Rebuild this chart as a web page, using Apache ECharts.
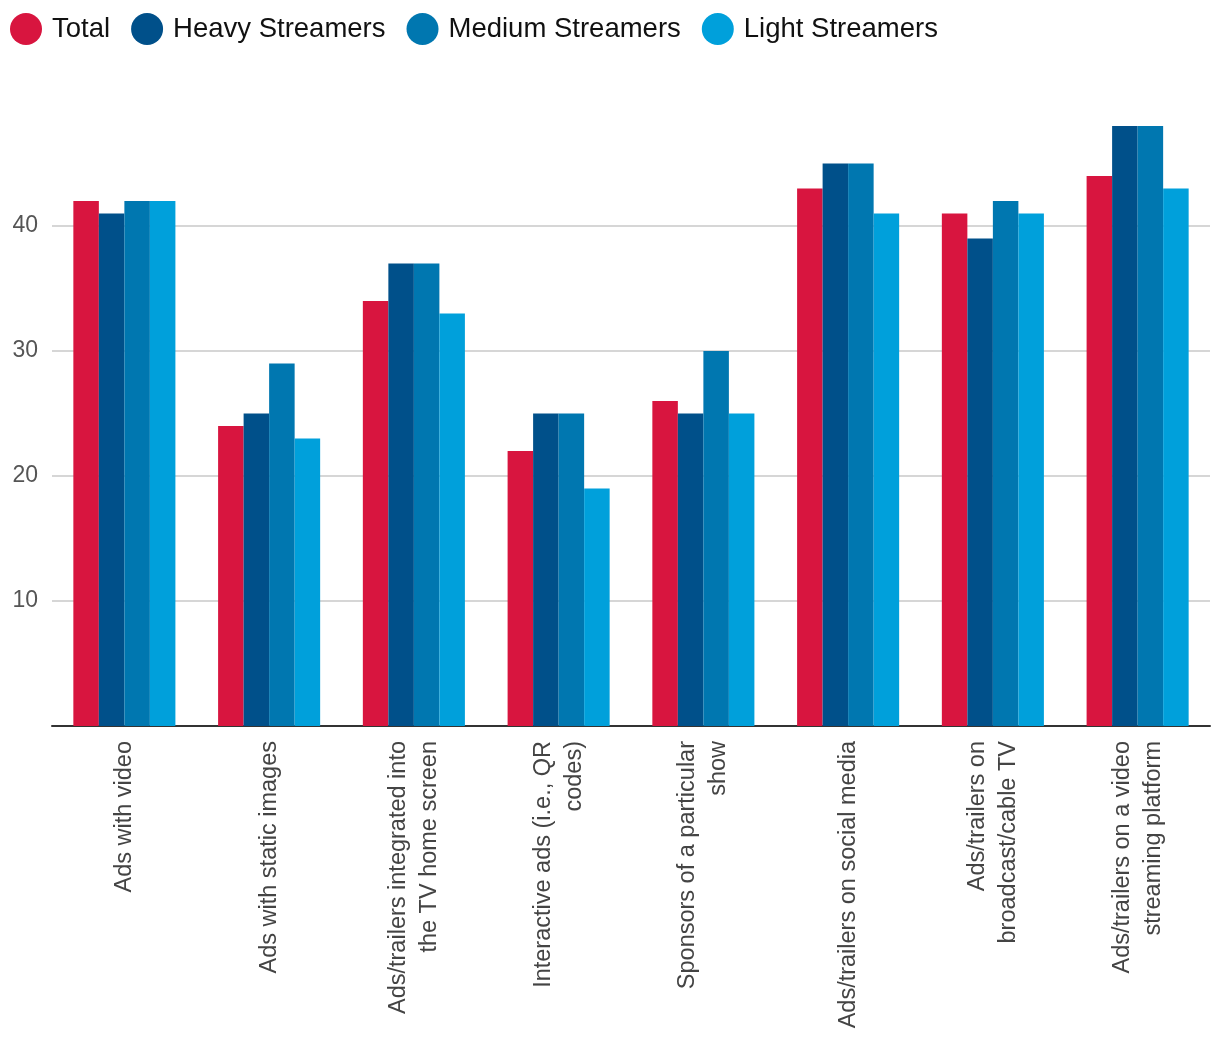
<!DOCTYPE html>
<html>
<head>
<meta charset="utf-8">
<script src="https://cdn.jsdelivr.net/npm/echarts@6/dist/echarts.min.js"></script>
<style>
html,body{margin:0;padding:0;background:#fff;}
#chart{width:1220px;height:1058px;}
</style>
</head>
<body>
<div id="chart"></div>
<script>
const categories = [
  "Ads with video",
  "Ads with static images",
  "Ads/trailers integrated into\nthe TV home screen",
  "Interactive ads (i.e., QR\ncodes)",
  "Sponsors of a particular\nshow",
  "Ads/trailers on social media",
  "Ads/trailers on\nbroadcast/cable TV",
  "Ads/trailers on a video\nstreaming platform"
];
const seriesNames = ["Total", "Heavy Streamers", "Medium Streamers", "Light Streamers"];
const total  = [42, 24, 34, 22, 26, 43, 41, 44];
const heavy  = [41, 25, 37, 25, 25, 45, 39, 48];
const medium = [42, 29, 37, 25, 30, 45, 42, 48];
const light  = [42, 23, 33, 19, 25, 41, 41, 43];
const colors = ["#d8153f", "#00508a", "#0077b0", "#00a0db"];

const font = "'Liberation Sans', Arial, sans-serif";
const chart = echarts.init(document.getElementById('chart'));
const dataSets = [total, heavy, medium, light];
chart.setOption({
  animation: false,
  textStyle: { fontFamily: font },
  legend: {
    left: 5, top: 8,
    icon: 'circle',
    itemWidth: 32, itemHeight: 32,
    itemGap: 21,
    textStyle: { fontSize: 27.5, color: '#111', fontFamily: font, padding: [0, 0, 0, 5] },
    data: seriesNames
  },
  grid: { left: 52, right: 10, top: 101, bottom: 332, containLabel: false },
  xAxis: {
    type: 'category',
    data: categories,
    axisLine: { lineStyle: { color: '#333', width: 2 } },
    axisTick: { show: false },
    axisLabel: {
      rotate: 90, margin: 15, fontSize: 23.5, lineHeight: 31, color: '#444',
      fontFamily: font, interval: 0
    }
  },
  yAxis: {
    type: 'value',
    min: 0, max: 50, interval: 10,
    axisLine: { show: false },
    axisTick: { show: false },
    axisLabel: {
      fontSize: 23, color: '#555', margin: 14, fontFamily: font,
      formatter: v => (v === 0 || v === 50) ? '' : String(v)
    },
    splitLine: { lineStyle: { color: ['#d6d6d6','#d6d6d6','#d6d6d6','#d6d6d6','#d6d6d6','rgba(0,0,0,0)'], width: 2 } }
  },
  series: seriesNames.map((n, i) => ({
    name: n,
    type: 'bar',
    data: dataSets[i],
    barGap: '0%',
    barCategoryGap: '29.5%',
    itemStyle: { color: colors[i] }
  }))
});
</script>
</body>
</html>
